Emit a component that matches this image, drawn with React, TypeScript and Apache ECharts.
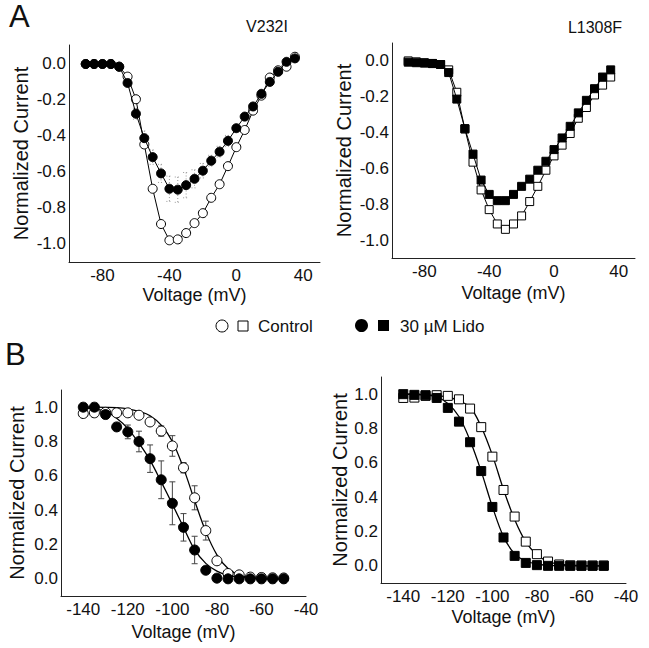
import React, { useEffect, useRef } from 'react';
import * as echarts from 'echarts';

// ---------- Data ----------
const ivVoltages = [-90, -85, -80, -75, -70, -65, -60, -55, -50, -45, -40, -35, -30, -25, -20, -15, -10, -5, 0, 5, 10, 15, 20, 25, 30, 35];

const v232iIvControl = [-0.005, -0.005, -0.005, -0.005, -0.02, -0.075, -0.2, -0.45, -0.695, -0.89, -0.98, -0.975, -0.94, -0.885, -0.83, -0.745, -0.67, -0.57, -0.465, -0.37, -0.263, -0.18, -0.08, -0.04, -0.02, 0.035];
const v232iIvLido = [-0.005, -0.005, -0.005, -0.005, -0.02, -0.11, -0.28, -0.415, -0.52, -0.61, -0.695, -0.7, -0.675, -0.64, -0.595, -0.54, -0.49, -0.43, -0.36, -0.296, -0.24, -0.17, -0.104, -0.048, 0.007, 0.026];
const v232iIvLidoErr = [0, 0, 0, 0, 0, 0, 0.03, 0.04, 0.04, 0.05, 0.07, 0.07, 0.07, 0.05, 0.04, 0.03, 0.03, 0.03, 0, 0, 0, 0, 0, 0, 0, 0];

const l1308fIvControl = [0.0, -0.005, -0.01, -0.015, -0.02, -0.05, -0.175, -0.38, -0.565, -0.72, -0.83, -0.91, -0.94, -0.91, -0.865, -0.785, -0.7, -0.61, -0.53, -0.47, -0.405, -0.32, -0.26, -0.19, -0.135, -0.09];
const l1308fIvLido = [-0.007, -0.01, -0.012, -0.014, -0.02, -0.065, -0.213, -0.378, -0.52, -0.665, -0.745, -0.78, -0.78, -0.745, -0.7, -0.66, -0.61, -0.56, -0.495, -0.43, -0.365, -0.29, -0.22, -0.155, -0.09, -0.05];

const ssVoltages = [-140, -135, -130, -125, -120, -115, -110, -105, -100, -95, -90, -85, -80, -75, -70, -65, -60, -55, -50];

const v232iSsControl = [0.963, 0.967, 0.97, 0.967, 0.967, 0.953, 0.914, 0.861, 0.774, 0.647, 0.472, 0.281, 0.105, 0.031, 0.023, 0.01, 0.008, 0.006, 0.005];
const v232iSsControlErr = [0.02, 0.02, 0.02, 0.02, 0.015, 0.01, 0.01, 0.03, 0.06, 0.03, 0.07, 0.055, 0.01, 0, 0, 0, 0, 0, 0];
const v232iSsLido = [1.0, 1.0, 0.957, 0.885, 0.856, 0.8, 0.7, 0.577, 0.44, 0.3, 0.168, 0.05, 0.004, 0.0, 0.0, 0.0, 0.0, 0.0, 0.0];
const v232iSsLidoErr = [0, 0, 0, 0, 0.04, 0.06, 0.08, 0.11, 0.125, 0.08, 0.08, 0.02, 0, 0, 0, 0, 0, 0, 0];

const l1308fSsControl = [0.978, 0.98, 0.99, 0.994, 0.99, 0.97, 0.916, 0.808, 0.636, 0.442, 0.287, 0.141, 0.068, 0.025, 0.008, 0.003, 0.002, 0.002, 0.002];
const l1308fSsLido = [1.0, 0.996, 0.994, 0.978, 0.92, 0.84, 0.72, 0.552, 0.343, 0.165, 0.058, 0.017, 0.004, 0.0, 0.0, 0.0, 0.0, 0.0, 0.0];

// fitted Boltzmann curves at each voltage
const v232iFitControl = [1.0, 1.0, 0.999, 0.997, 0.99, 0.975, 0.95, 0.895, 0.8, 0.645, 0.455, 0.275, 0.14, 0.06, 0.022, 0.008, 0.003, 0.001, 0.0];
const v232iFitLido = [0.995, 0.99, 0.975, 0.935, 0.875, 0.79, 0.69, 0.565, 0.435, 0.3, 0.17, 0.09, 0.045, 0.02, 0.01, 0.005, 0.002, 0.001, 0.0];
const l1308fFitControl = [1.0, 0.999, 0.997, 0.99, 0.985, 0.96, 0.925, 0.81, 0.645, 0.445, 0.27, 0.14, 0.065, 0.025, 0.01, 0.004, 0.001, 0.0, 0.0];
const l1308fFitLido = [1.0, 0.998, 0.995, 0.985, 0.945, 0.87, 0.73, 0.55, 0.345, 0.17, 0.07, 0.028, 0.01, 0.003, 0.001, 0.0, 0.0, 0.0, 0.0];

const ivTickLabels = [-80, -40, 0, 40];
const ssTickLabels = [-140, -120, -100, -80, -60, -40];

// ---------- Styling helpers ----------
const FONT = '"Liberation Sans", Arial, Helvetica, sans-serif';
const INK = '#111';

const pair = (xs: number[], ys: number[]) => xs.map((x, i) => [x, ys[i]]);
const triple = (xs: number[], ys: number[], es: number[]) => xs.map((x, i) => [x, ys[i], es[i]]);

function xAxisCfg(gridIndex: number, min: number, max: number, interval: number, ticks: number[], nameGap: number) {
  return {
    type: 'value',
    gridIndex,
    min,
    max,
    interval,
    name: 'Voltage (mV)',
    nameLocation: 'middle',
    nameGap,
    nameTextStyle: { fontFamily: FONT, fontSize: 18, color: INK },
    axisLine: { show: true, onZero: false, lineStyle: { color: '#222', width: 1 } },
    axisTick: { show: false },
    splitLine: { show: false },
    axisLabel: {
      fontFamily: FONT,
      fontSize: 17,
      color: INK,
      margin: 5,
      showMinLabel: true,
      showMaxLabel: true,
      formatter: (v: number) => {
        const r = Math.round(v);
        return Math.abs(v - r) < 1e-6 && ticks.includes(r) ? String(r) : '';
      },
    },
  };
}

function yAxisCfg(gridIndex: number, min: number, max: number, lo: number, hi: number, nameGap: number) {
  return {
    type: 'value',
    gridIndex,
    min,
    max,
    interval: 0.1,
    name: 'Normalized Current',
    nameLocation: 'middle',
    nameGap,
    nameTextStyle: { fontFamily: FONT, fontSize: 20, color: INK },
    axisLine: { show: true, onZero: false, lineStyle: { color: '#222', width: 1 } },
    axisTick: { show: false },
    splitLine: { show: false },
    axisLabel: {
      fontFamily: FONT,
      fontSize: 17,
      color: INK,
      margin: 3,
      showMinLabel: true,
      showMaxLabel: true,
      formatter: (v: number) => {
        const k = Math.round(v * 10);
        if (k % 2 !== 0 || k < lo || k > hi) return '';
        return (k / 10).toFixed(1);
      },
    },
  };
}

function markerSeries(idx: number, data: number[][], symbol: string, size: number, filled: boolean, withLine: boolean, z: number) {
  return {
    type: withLine ? 'line' : 'scatter',
    xAxisIndex: idx,
    yAxisIndex: idx,
    data,
    symbol,
    symbolSize: size,
    showSymbol: true,
    z,
    silent: true,
    itemStyle: filled
      ? { color: '#000', borderColor: '#000', borderWidth: 1, opacity: 1 }
      : { color: '#fff', borderColor: '#000', borderWidth: 1, opacity: 1 },
    lineStyle: { color: '#000', width: 1 },
    emphasis: { disabled: true },
  };
}

function fitSeries(idx: number, data: number[][]) {
  return {
    type: 'line',
    xAxisIndex: idx,
    yAxisIndex: idx,
    data,
    smooth: 0.35,
    showSymbol: false,
    symbol: 'none',
    z: 2,
    silent: true,
    lineStyle: { color: '#000', width: 1.3 },
    emphasis: { disabled: true },
  };
}

function errorSeries(idx: number, data: number[][], color: string, lineType: string) {
  return {
    type: 'custom',
    xAxisIndex: idx,
    yAxisIndex: idx,
    z: 1,
    silent: true,
    data,
    renderItem: (_params: any, api: any) => {
      const x = api.value(0);
      const y = api.value(1);
      const e = api.value(2);
      if (!e) return { type: 'group', children: [] };
      const top = api.coord([x, y + e]);
      const bot = api.coord([x, y - e]);
      const w = 3;
      const style = { stroke: color, lineWidth: 1, lineDash: lineType === 'dotted' ? [1, 2] : null };
      return {
        type: 'group',
        children: [
          { type: 'line', shape: { x1: top[0], y1: top[1], x2: bot[0], y2: bot[1] }, style },
          { type: 'line', shape: { x1: top[0] - w, y1: top[1], x2: top[0] + w, y2: top[1] }, style },
          { type: 'line', shape: { x1: bot[0] - w, y1: bot[1], x2: bot[0] + w, y2: bot[1] }, style },
        ],
      };
    },
  };
}

function buildOption() {
  const textStyle = (size: number) => ({ fontFamily: FONT, fontSize: size, fill: INK });
  return {
    animation: false,
    backgroundColor: '#fff',
    grid: [
      { left: 69, top: 45, width: 251, height: 217 },
      { left: 392, top: 43, width: 243, height: 215 },
      { left: 61, top: 390, width: 245, height: 206 },
      { left: 381, top: 377, width: 245, height: 206 },
    ],
    xAxis: [
      xAxisCfg(0, -100, 50, 20, ivTickLabels, 24),
      xAxisCfg(1, -100, 50, 20, ivTickLabels, 26),
      xAxisCfg(2, -150, -40, 10, ssTickLabels, 27),
      xAxisCfg(3, -150, -40, 10, ssTickLabels, 25),
    ],
    yAxis: [
      yAxisCfg(0, -1.1, 0.1, -10, 0, 38),
      yAxisCfg(1, -1.1, 0.1, -10, 0, 38),
      yAxisCfg(2, -0.1, 1.1, 0, 10, 34),
      yAxisCfg(3, -0.1, 1.1, 0, 10, 30),
    ],
    series: [
      // A: V232I I-V
      errorSeries(0, triple(ivVoltages, v232iIvLido, v232iIvLidoErr), '#999', 'dotted'),
      markerSeries(0, pair(ivVoltages, v232iIvControl), 'circle', 9, false, true, 3),
      markerSeries(0, pair(ivVoltages, v232iIvLido), 'circle', 9, true, true, 4),
      // A: L1308F I-V
      markerSeries(1, pair(ivVoltages, l1308fIvControl), 'rect', 8, false, true, 3),
      markerSeries(1, pair(ivVoltages, l1308fIvLido), 'rect', 8, true, true, 4),
      // B: V232I steady-state inactivation
      fitSeries(2, pair(ssVoltages, v232iFitControl)),
      fitSeries(2, pair(ssVoltages, v232iFitLido)),
      errorSeries(2, triple(ssVoltages, v232iSsControl, v232iSsControlErr), '#444', 'solid'),
      errorSeries(2, triple(ssVoltages, v232iSsLido, v232iSsLidoErr), '#444', 'solid'),
      markerSeries(2, pair(ssVoltages, v232iSsControl), 'circle', 10, false, false, 3),
      markerSeries(2, pair(ssVoltages, v232iSsLido), 'circle', 10, true, false, 4),
      // B: L1308F steady-state inactivation
      fitSeries(3, pair(ssVoltages, l1308fFitControl)),
      fitSeries(3, pair(ssVoltages, l1308fFitLido)),
      markerSeries(3, pair(ssVoltages, l1308fSsControl), 'rect', 9, false, false, 3),
      markerSeries(3, pair(ssVoltages, l1308fSsLido), 'rect', 9, true, false, 4),
    ],
    graphic: [
      { type: 'text', left: 9, top: 1, style: { ...textStyle(31), text: 'A' } },
      { type: 'text', left: 5, top: 339, style: { ...textStyle(31), text: 'B' } },
      { type: 'text', x: 267, y: 26, style: { ...textStyle(16), text: 'V232I', align: 'center', verticalAlign: 'middle' } },
      { type: 'text', x: 595, y: 27, style: { ...textStyle(16), text: 'L1308F', align: 'center', verticalAlign: 'middle' } },
      // legend
      { type: 'circle', shape: { cx: 222, cy: 326, r: 6 }, style: { fill: '#fff', stroke: '#000', lineWidth: 1 } },
      { type: 'rect', shape: { x: 238, y: 321, width: 10, height: 10 }, style: { fill: '#fff', stroke: '#000', lineWidth: 1 } },
      { type: 'text', x: 258, y: 326, style: { ...textStyle(17), text: 'Control', verticalAlign: 'middle' } },
      { type: 'circle', shape: { cx: 361.5, cy: 325.5, r: 6.5 }, style: { fill: '#000' } },
      { type: 'rect', shape: { x: 378, y: 320, width: 11, height: 11 }, style: { fill: '#000' } },
      { type: 'text', x: 400, y: 326, style: { ...textStyle(17), text: '30 µM Lido', verticalAlign: 'middle' } },
    ],
  };
}

export default function App() {
  const ref = useRef<HTMLDivElement>(null);
  useEffect(() => {
    if (!ref.current) return;
    const chart = echarts.init(ref.current, undefined, { renderer: 'svg' });
    chart.setOption(buildOption() as any);
    return () => chart.dispose();
  }, []);
  return (
    <div
      ref={ref}
      style={{ position: 'absolute', left: 0, top: 0, width: 649, height: 648, background: '#fff' }}
    />
  );
}
